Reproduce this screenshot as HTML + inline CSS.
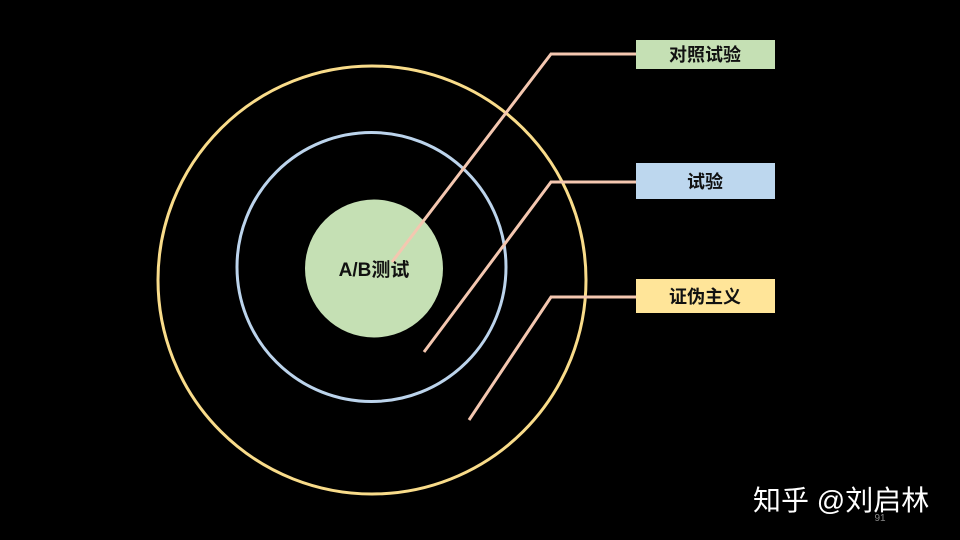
<!DOCTYPE html>
<html><head><meta charset="utf-8"><style>
html,body{margin:0;padding:0;background:#000;}
svg{display:block;}
text{font-family:"Liberation Sans","Noto Sans CJK SC",sans-serif;}
</style></head><body>
<svg width="960" height="540" viewBox="0 0 960 540">
<rect width="960" height="540" fill="#000"/>
<circle cx="372" cy="280" r="214" fill="none" stroke="#f9dc8a" stroke-width="3"/>
<circle cx="371.5" cy="267" r="134.5" fill="none" stroke="#bcd4ec" stroke-width="3"/>
<circle cx="374" cy="268.5" r="69" fill="#c5e0b4"/>
<text x="374" y="276" text-anchor="middle" font-size="19" font-weight="bold" fill="#111">A/B测试</text>
<g fill="none" stroke="#f4c7b0" stroke-width="3">
<polyline points="392,262 551,54 636,54"/>
<polyline points="424,352 551,182 636,182"/>
<polyline points="469,420 551,297 636,297"/>
</g>
<rect x="636" y="40" width="139" height="29" fill="#c5e0b4"/>
<text x="705" y="61" text-anchor="middle" font-size="18" font-weight="bold" fill="#111">对照试验</text>
<rect x="636" y="163" width="139" height="36" fill="#bdd7ee"/>
<text x="705" y="188" text-anchor="middle" font-size="18" font-weight="bold" fill="#111">试验</text>
<rect x="636" y="279" width="139" height="34" fill="#ffe599"/>
<text x="705" y="303" text-anchor="middle" font-size="18" font-weight="bold" fill="#111">证伪主义</text>
<text x="753" y="510" font-size="28" fill="#fff">知乎 @刘启林</text>
<text x="880" y="521" text-anchor="middle" font-size="10" fill="#888">91</text>
</svg>
</body></html>
